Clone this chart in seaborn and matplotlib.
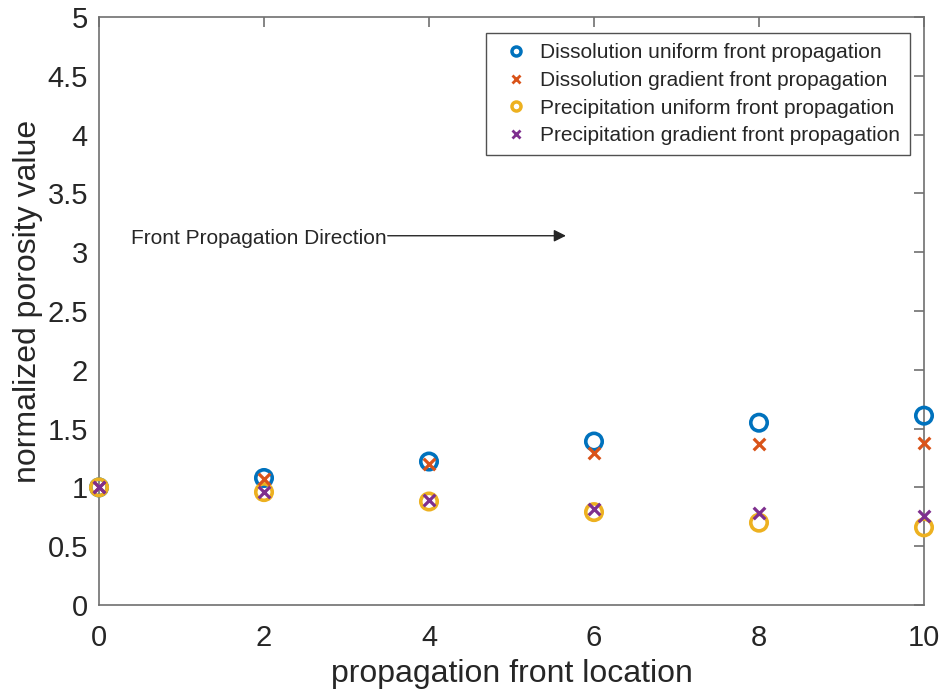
import numpy as np
import pandas as pd
import matplotlib
matplotlib.use("Agg")
import matplotlib.pyplot as plt
import seaborn as sns

# Front locations and normalized porosity for each case
location = [0, 2, 4, 6, 8, 10]
diss_uniform = [1.00, 1.08, 1.22, 1.39, 1.55, 1.61]
diss_gradient = [1.00, 1.07, 1.20, 1.29, 1.37, 1.38]
prec_uniform = [1.00, 0.96, 0.88, 0.79, 0.70, 0.66]
prec_gradient = [1.00, 0.96, 0.89, 0.82, 0.78, 0.76]

labels = [
    "Dissolution uniform front propagation",
    "Dissolution gradient front propagation",
    "Precipitation uniform front propagation",
    "Precipitation gradient front propagation",
]
series = [diss_uniform, diss_gradient, prec_uniform, prec_gradient]
colors = ["#0072BD", "#D95319", "#EDB120", "#7E2F8E"]
markers = ["o", "x", "o", "x"]

sns.set_theme(style="white")
plt.rcParams["font.family"] = ["Liberation Sans", "DejaVu Sans"]

fig = plt.figure(figsize=(9.45, 6.96), dpi=100)
ax = fig.add_axes([99 / 945, 1 - 605 / 696, (924 - 99) / 945, (605 - 17) / 696])

for vals, lab, col, mk in zip(series, labels, colors, markers):
    df = pd.DataFrame({"x": location, "y": vals})
    if mk == "o":
        sns.scatterplot(data=df, x="x", y="y", ax=ax, marker="o", s=140,
                        facecolors="none", edgecolor=col, linewidth=2.6,
                        label=lab, zorder=3, clip_on=False)
    else:
        sns.scatterplot(data=df, x="x", y="y", ax=ax, marker="x", s=70,
                        color=col, linewidth=2.3, label=lab, zorder=4,
                        clip_on=False)

ax.set_xlim(0, 10)
ax.set_ylim(0, 5)
ax.set_xticks(np.arange(0, 11, 2))
ax.set_yticks(np.arange(0, 5.01, 0.5))
ax.set_yticklabels(["0", "0.5", "1", "1.5", "2", "2.5", "3", "3.5", "4", "4.5", "5"])

axis_col = "#707070"
for sp in ax.spines.values():
    sp.set_visible(True)
    sp.set_color(axis_col)
    sp.set_linewidth(1.2)
ax.tick_params(direction="in", length=7, width=1.2, color=axis_col,
               top=True, right=True, labelsize=21, labelcolor="#262626")
ax.tick_params(axis="x", pad=14)
ax.tick_params(axis="y", pad=8)

ax.set_xlabel("propagation front location", fontsize=23, color="#262626", labelpad=5)
ax.set_ylabel("normalized porosity value", fontsize=23, color="#262626")
ax.yaxis.set_label_coords(-0.068, 0.517)

# Direction annotation
ax.text(0.39, 3.12, "Front Propagation Direction", fontsize=15, color="#262626",
        ha="left", va="center")
ax.annotate("", xy=(5.66, 3.14), xytext=(3.5, 3.14),
            arrowprops=dict(arrowstyle="-|>", color="#262626", lw=1.0,
                            mutation_scale=18, shrinkA=0, shrinkB=0))

# Legend with smaller markers
handles = []
for lab, col, mk in zip(labels, colors, markers):
    if mk == "o":
        h = plt.Line2D([], [], linestyle="none", marker="o", markersize=6.5,
                       markerfacecolor="none", markeredgecolor=col, markeredgewidth=2.5)
    else:
        h = plt.Line2D([], [], linestyle="none", marker="x", markersize=6,
                       color=col, markeredgewidth=2)
    handles.append(h)
leg = ax.legend(handles, labels, loc="upper right",
                bbox_to_anchor=(910 / 945, 1 - 33 / 696), bbox_transform=fig.transFigure,
                fontsize=15, frameon=True, fancybox=False, handlelength=1.8,
                handletextpad=0.25, borderpad=0.5, labelspacing=0.41,
                borderaxespad=0)
leg.get_frame().set_edgecolor("#262626")
leg.get_frame().set_linewidth(1.0)
for t in leg.get_texts():
    t.set_color("#262626")

fig.savefig("out.png", dpi=100)
